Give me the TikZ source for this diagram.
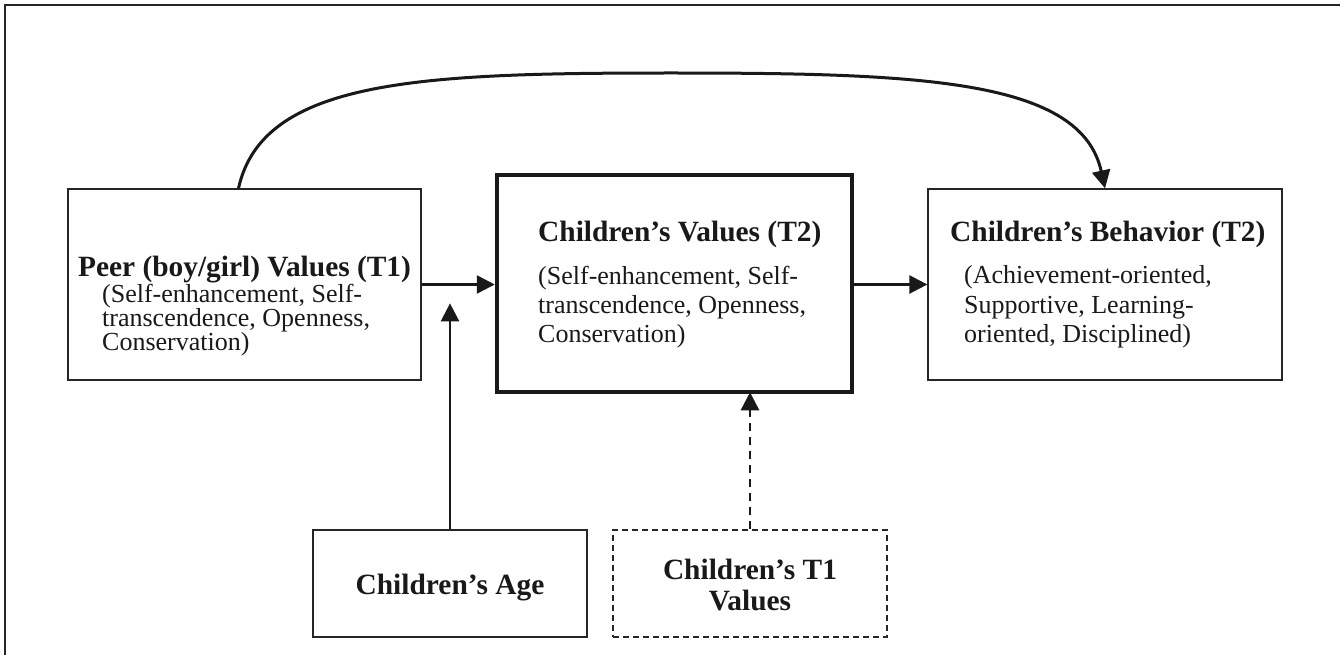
\documentclass[tikz,border=0pt]{standalone}
\usepackage{fontspec}
\setmainfont{Liberation Serif}
\usetikzlibrary{arrows.meta}
\begin{document}
\begin{tikzpicture}[x=1pt,y=-1pt,
  box/.style={draw=black!85, line width=1.3pt, inner sep=0pt},
  thickbox/.style={draw=black!90, line width=4.5pt, inner sep=0pt},
  dashbox/.style={draw=black!85, line width=1.3pt, inner sep=0pt, dash pattern=on 6pt off 4pt},
  arr/.style={draw=black!90, line width=2.5pt, -{Triangle[length=18pt,width=18pt]}},
  dasharr/.style={arr, dash pattern=on 8pt off 6pt},
  curvearr/.style={draw=black!90, line width=3pt, -{Triangle[length=18pt,width=18pt]}},
  frame/.style={draw=black!85, line width=1.2pt},
  ttl/.style={font=\fontsize{29.4pt}{33pt}\selectfont\bfseries, inner sep=0pt, anchor=base, text=black!90},
  ttlw/.style={ttl, anchor=base west},
  bdy/.style={font=\fontsize{26pt}{29.5pt}\selectfont, inner sep=0pt, anchor=base west, text=black!90}]
\useasboundingbox (0,0) rectangle (1340,655);
\fill[white] (0,0) rectangle (1340,655);
\draw[frame] (5,655) -- (5,5) -- (1340,5);

% boxes
\node[box, minimum width=353pt, minimum height=191pt] (peer) at (244.5,284.5) {};
\node[thickbox, minimum width=355pt, minimum height=217pt] (mid) at (674.5,283.5) {};
\node[box, minimum width=354pt, minimum height=191pt] (beh) at (1105,284.5) {};
\node[box, minimum width=274pt, minimum height=107pt] (age) at (450,583.5) {};
\node[dashbox, minimum width=274pt, minimum height=107pt] (t1) at (750,583.5) {};

% texts: peer
\node[ttl] (peerT) at (244.5,276) {Peer (boy/girl) Values (T1)};
\node[bdy] (peer1) at (102,302) {(Self-enhancement, Self-};
\node[bdy] (peer2) at (102,326) {transcendence, Openness,};
\node[bdy] (peer3) at (102,350) {Conservation)};
% middle
\node[ttlw] (midT) at (538,241) {Children’s Values (T2)};
\node[bdy] (mid1) at (538,284) {(Self-enhancement, Self-};
\node[bdy] (mid2) at (538,313) {transcendence, Openness,};
\node[bdy] (mid3) at (538,342) {Conservation)};
% right
\node[ttlw] (behT) at (950,241) {Children’s Behavior (T2)};
\node[bdy] (beh1) at (964,283) {(Achievement-oriented,};
\node[bdy] (beh2) at (964,313) {Supportive, Learning-};
\node[bdy] (beh3) at (964,342) {oriented, Disciplined)};
% bottom
\node[ttl] (ageT) at (450,594) {Children’s Age};
\node[ttl] (t1a) at (750,579) {Children’s T1};
\node[ttl] (t1b) at (750,610) {Values};

% connectors
\draw[arr] (peer.east) -- (peer.east -| mid.west);
\draw[arr] (mid.east |- peer.east) -- (beh.west);
\path (age.north) ++(0,-226) coordinate (agetip);
\draw[arr] (age.north) -- (agetip);
\draw[dasharr] (t1.north) -- ([yshift=2pt]t1.north |- mid.south);
\coordinate (apex) at (671,73);
\draw[curvearr] ([xshift=-6pt]peer.north) .. controls +(24,-109) and +(-251,0) .. (apex)
  .. controls +(251,0) and +(-24,-109) .. (beh.north);
\end{tikzpicture}
\end{document}
